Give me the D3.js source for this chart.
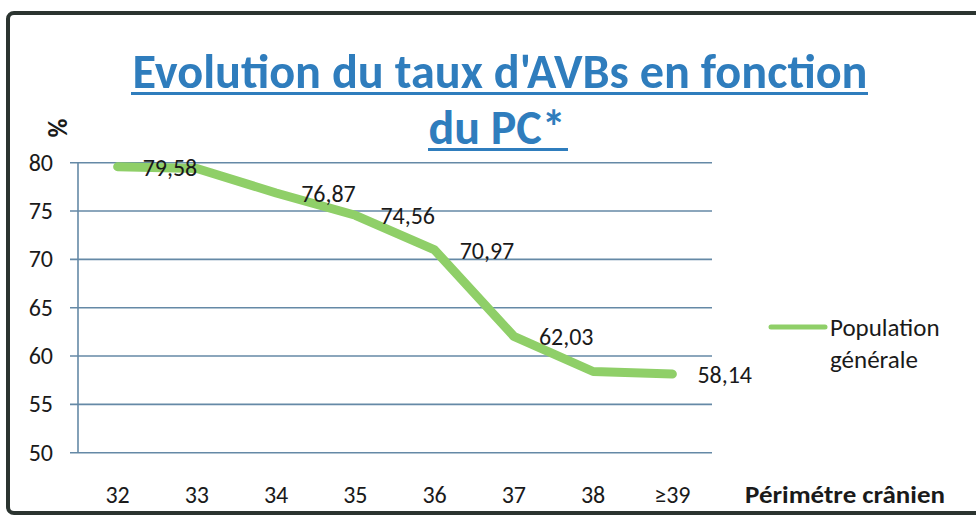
<!DOCTYPE html>
<html>
<head>
<meta charset="utf-8">
<title>Evolution du taux d'AVBs</title>
<script src="https://d3js.org/d3.v7.min.js"></script>
<style>
  body { margin: 0; background: #fff; }
  text { font-family: Carlito, Lato, "Open Sans", sans-serif; }
</style>
</head>
<body>
<div id="vis"></div>
<script>
const width = 976;
const height = 516;

// data
const categories = ["32", "33", "34", "35", "36", "37", "38", "\u226539"];
const values = [79.58, 79.4, 76.87, 74.56, 70.97, 62.03, 58.4, 58.14];
const labelled = [true, false, true, true, true, true, false, true];
const yTicks = [50, 55, 60, 65, 70, 75, 80];

const svg = d3.select("#vis").append("svg")
  .attr("width", width).attr("height", height);

svg.append("rect").attr("width", width).attr("height", height).attr("fill", "#fff");

// frame
svg.append("rect")
  .attr("x", 8).attr("y", 13).attr("width", 975).attr("height", 500)
  .attr("rx", 6)
  .attr("fill", "none").attr("stroke", "#2b3430").attr("stroke-width", 4);

const x = d3.scaleBand().domain(categories).range([78, 712]);
const y = d3.scaleLinear().domain([50, 80]).range([452.7, 162.7]);

// grid lines
svg.append("g")
  .selectAll("line")
  .data(yTicks)
  .join("line")
  .attr("x1", 70).attr("x2", 712)
  .attr("y1", d => y(d)).attr("y2", d => y(d))
  .attr("stroke", "#6589a6").attr("stroke-width", 1.6);

// vertical axis
svg.append("line")
  .attr("x1", 78).attr("x2", 78)
  .attr("y1", y(80)).attr("y2", y(50))
  .attr("stroke", "#6589a6").attr("stroke-width", 1.6);

// y tick labels
svg.append("g")
  .selectAll("text")
  .data(yTicks)
  .join("text")
  .attr("x", 53).attr("y", d => y(d) + 8)
  .attr("text-anchor", "end")
  .attr("font-size", 24).attr("fill", "#1a1a1a")
  .text(d => d);

// x tick labels
svg.append("g")
  .selectAll("text")
  .data(categories)
  .join("text")
  .attr("x", d => x(d) + x.bandwidth() / 2)
  .attr("y", 503)
  .attr("text-anchor", "middle")
  .attr("font-size", 24).attr("fill", "#1a1a1a")
  .text(d => d);

// the series
const pts = categories.map((c, i) => ({ c: c, v: values[i], lab: labelled[i] }));
const line = d3.line()
  .x(d => x(d.c) + x.bandwidth() / 2)
  .y(d => y(d.v));

svg.append("path")
  .datum(pts)
  .attr("d", line)
  .attr("fill", "none")
  .attr("stroke", "#8fcf68")
  .attr("stroke-width", 9)
  .attr("stroke-linecap", "round")
  .attr("stroke-linejoin", "round");

// data labels
svg.append("g")
  .selectAll("text")
  .data(pts.filter(d => d.lab))
  .join("text")
  .attr("x", d => x(d.c) + x.bandwidth() / 2 + 25)
  .attr("y", d => y(d.v) + 9)
  .attr("font-size", 24).attr("fill", "#1a1a1a")
  .text(d => d.v.toFixed(2).replace(".", ","));

// title
const title = svg.append("g").attr("fill", "#2f7dbd").attr("font-weight", "bold");
title.append("text")
  .attr("x", 500).attr("y", 88)
  .attr("text-anchor", "middle")
  .attr("font-size", 48)
  .attr("textLength", 735).attr("lengthAdjust", "spacingAndGlyphs")
  .text("Evolution du taux d'AVBs en fonction");
title.append("rect").attr("x", 131).attr("y", 92).attr("width", 737).attr("height", 3);
title.append("text")
  .attr("x", 497).attr("y", 144)
  .attr("text-anchor", "middle")
  .attr("font-size", 48)
  .text("du PC*");
title.append("rect").attr("x", 428).attr("y", 148).attr("width", 140).attr("height", 3);

// y axis unit
svg.append("text")
  .attr("transform", "translate(67,128) rotate(-90)")
  .attr("text-anchor", "middle")
  .attr("font-size", 26).attr("font-weight", "bold").attr("fill", "#1a1a1a")
  .text("%");

// x axis title
svg.append("text")
  .attr("x", 745).attr("y", 503)
  .attr("font-size", 24).attr("font-weight", "bold").attr("fill", "#1a1a1a")
  .attr("textLength", 200).attr("lengthAdjust", "spacingAndGlyphs")
  .text("P\u00e9rim\u00e9tre cr\u00e2nien");

// legend
svg.append("line")
  .attr("x1", 771).attr("x2", 825).attr("y1", 327).attr("y2", 327)
  .attr("stroke", "#8fcf68").attr("stroke-width", 5).attr("stroke-linecap", "round");
svg.append("text")
  .attr("x", 830).attr("y", 336)
  .attr("font-size", 25).attr("fill", "#1a1a1a")
  .text("Population");
svg.append("text")
  .attr("x", 830).attr("y", 368)
  .attr("font-size", 25).attr("fill", "#1a1a1a")
  .text("g\u00e9n\u00e9rale");
</script>
</body>
</html>
